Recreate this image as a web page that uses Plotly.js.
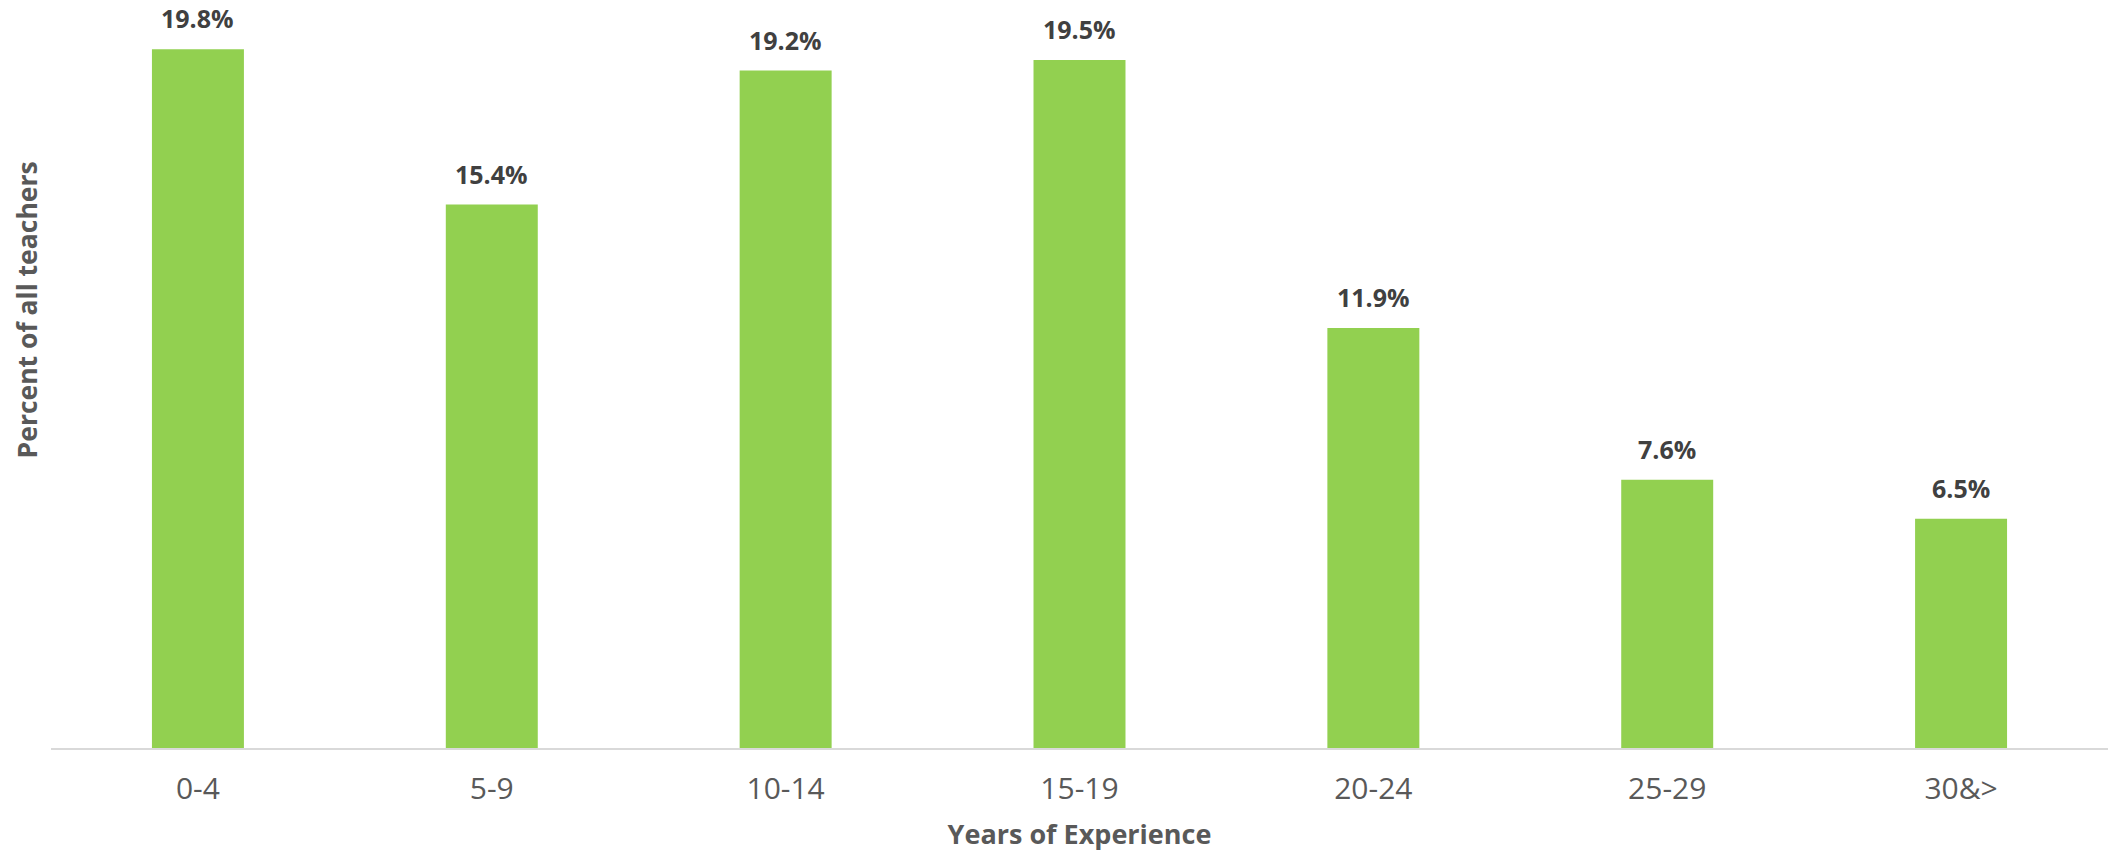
<!DOCTYPE html>
<html>
<head>
<meta charset="utf-8">
<script src="https://cdn.plot.ly/plotly-3.0.1.min.js"></script>
<style>
  html, body { margin: 0; padding: 0; background: #ffffff; }
  #chart { width: 2111px; height: 852px; }
</style>
</head>
<body>
<div id="chart"></div>
<script>
const categories = ["0-4", "5-9", "10-14", "15-19", "20-24", "25-29", "30&>"];
const percentValues = [19.8, 15.4, 19.2, 19.5, 11.9, 7.6, 6.5];
const valueLabels = ["19.8%", "15.4%", "19.2%", "19.5%", "11.9%", "7.6%", "6.5%"];
const xAxisTitle = "Years of Experience";
const yAxisTitle = "Percent of all teachers";

const FONT = "'Open Sans', 'Noto Sans', sans-serif";

const trace = {
  type: "bar",
  x: categories,
  y: percentValues,
  marker: { color: "#92D050", line: { width: 0 } },
  width: 0.313,
  hoverinfo: "skip"
};

const labelAnnotations = categories.map((c, i) => ({
  x: c,
  y: percentValues[i],
  xref: "x",
  yref: "y",
  text: "<b>" + valueLabels[i] + "</b>",
  showarrow: false,
  yanchor: "bottom",
  yshift: 12,
  font: { family: FONT, size: 25, color: "#404040" }
}));

labelAnnotations.push({
  xref: "paper",
  yref: "paper",
  x: -0.0115,
  y: 0.591,
  xanchor: "center",
  yanchor: "middle",
  textangle: -90,
  text: "<b>" + yAxisTitle + "</b>",
  showarrow: false,
  font: { family: FONT, size: 26.5, color: "#595959" }
});

const layout = {
  width: 2111,
  height: 852,
  margin: { l: 51, r: 3, t: 7, b: 104 },
  paper_bgcolor: "#ffffff",
  plot_bgcolor: "#ffffff",
  showlegend: false,
  font: { family: FONT, color: "#595959" },
  xaxis: {
    type: "category",
    showline: true,
    linecolor: "#d9d9d9",
    linewidth: 1.5,
    showgrid: false,
    zeroline: false,
    ticks: "",
    ticklabelstandoff: 13,
    tickfont: { family: FONT, size: 30, color: "#595959" },
    title: {
      text: "<b>" + xAxisTitle + "</b>",
      font: { family: FONT, size: 27, color: "#595959" },
      standoff: 22
    }
  },
  yaxis: {
    range: [0, 21],
    showline: false,
    showgrid: false,
    zeroline: false,
    showticklabels: false,
    ticks: ""
  },
  annotations: labelAnnotations
};

Plotly.newPlot("chart", [trace], layout, { displayModeBar: false, staticPlot: true });
</script>
</body>
</html>
